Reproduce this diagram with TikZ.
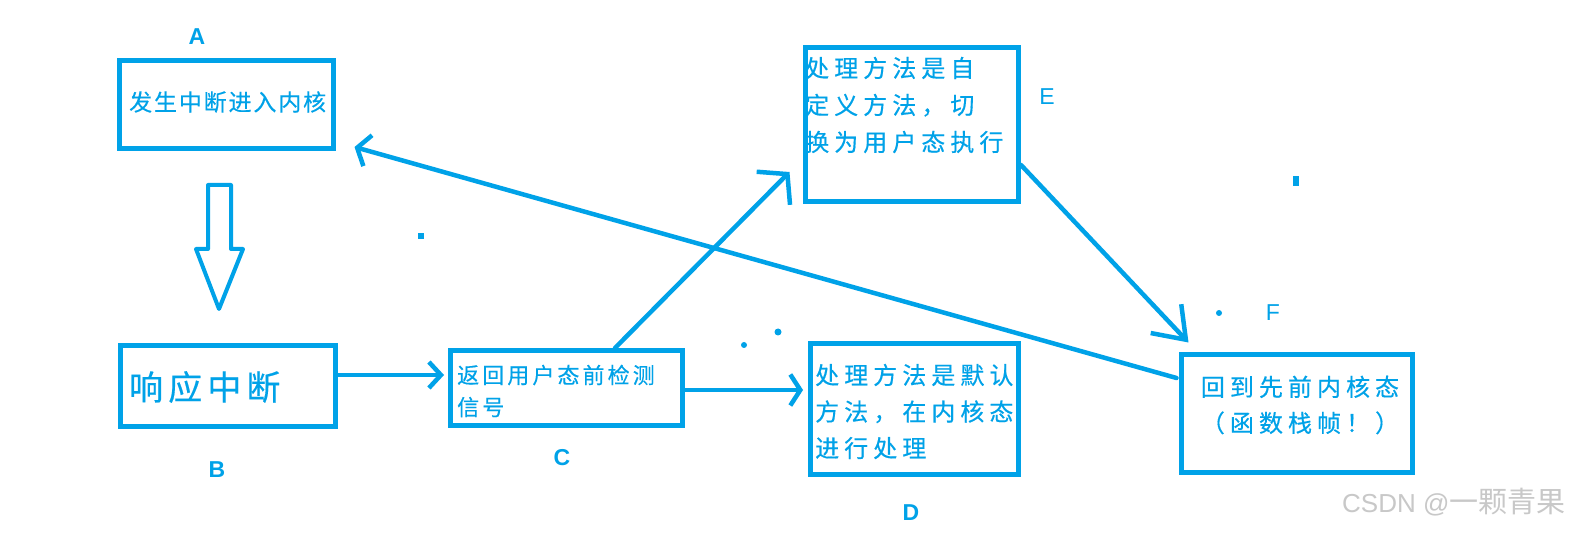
\documentclass[tikz,border=0pt]{standalone}
\usepackage{fontspec}
\setmainfont{Liberation Sans}
\newfontfamily\cjkA[LetterSpace=8,FakeBold=0.4]{Noto Sans CJK SC}
\newfontfamily\cjkB[LetterSpace=15,FakeBold=0.4]{Noto Sans CJK SC}
\newfontfamily\cjkC[LetterSpace=14,FakeBold=0.4]{Noto Sans CJK SC}
\newfontfamily\cjkD[LetterSpace=21,FakeBold=0.4]{Noto Sans CJK SC}
\newfontfamily\cjkW{Noto Sans CJK SC}
\usetikzlibrary{arrows.meta}
\definecolor{paint}{RGB}{0,162,232}
\definecolor{wmgray}{RGB}{200,200,200}
\begin{document}
\begin{tikzpicture}[x=1pt,y=-1pt,
  box/.style={draw=paint,line width=5pt,inner sep=0pt,rectangle},
  txt/.style={text=paint,inner sep=0pt},
  lab/.style={text=paint,inner sep=0pt,font=\fontsize{23}{23}\selectfont\bfseries},
  labr/.style={text=paint,inner sep=0pt,font=\fontsize{23}{23}\selectfont},
  conn/.style={draw=paint,line width=4.5pt,line cap=round,line join=round}]
\fill[white] (0,0) rectangle (1579,534);
\useasboundingbox (0,0) rectangle (1579,534);

% boxes
\node[box,minimum width=214pt,minimum height=88pt] (A) at (226.5,104.5) {};
\node[box,minimum width=215pt,minimum height=81pt] (B) at (228,386) {};
\node[box,minimum width=232pt,minimum height=75pt] (C) at (566.5,388) {};
\node[box,minimum width=208pt,minimum height=131pt] (D) at (914.5,409) {};
\node[box,minimum width=213pt,minimum height=154pt] (E) at (912,124.5) {};
\node[box,minimum width=231pt,minimum height=118pt] (F) at (1297,413.5) {};

% texts
\node[txt,anchor=west,font=\fontsize{23}{23}\selectfont\cjkA] (At) at (129,102) {发生中断进入内核};
\node[txt,anchor=west,font=\fontsize{34}{34}\selectfont\cjkB] (Bt) at (129,387) {响应中断};
\node[txt,anchor=west,align=left,font=\fontsize{22}{32}\selectfont\cjkC] (Ct) at (457,391) {返回用户态前检测\\信号};
\node[txt,anchor=west,align=left,font=\fontsize{24}{36.5}\selectfont\cjkD] (Dt) at (815,411.5) {处理方法是默认\\方法，在内核态\\进行处理};
\node[txt,anchor=west,align=left,font=\fontsize{24}{37}\selectfont\cjkD] (Et) at (805,105) {处理方法是自\\定义方法，切\\换为用户态执行};
\node[txt,align=center,font=\fontsize{24}{36}\selectfont\cjkD] (Ft) at (1300,405) {回到先前内核态\\（函数栈帧！）};

% labels
\node[lab] (La) at (197,37) {A};
\node[lab] (Lb) at (217,470) {B};
\node[lab] (Lc) at (562,458) {C};
\node[lab] (Ld) at (911,513) {D};
\node[labr] (Le) at (1047,97) {E};
\node[labr] (Lf) at (1273,313) {F};

% hollow arrow A -> B
\draw[draw=paint,line width=4pt,line join=round]
  (208,185) -- (231,185) -- (231,249) -- (243,249) -- (219,309) -- (196,249) -- (208,249) -- cycle;

% connectors
\draw[conn,-{Straight Barb[length=12pt,width=26pt]}] ([yshift=11pt]B.east) -- ([xshift=-4pt,yshift=13pt]C.west);
\draw[conn,-{Straight Barb[length=10pt,width=31pt]}] ([yshift=-2pt]C.east) -- ([xshift=-5pt,yshift=19pt]D.west);
\draw[conn,-{Straight Barb[length=20pt,width=47pt]}] ([xshift=48.5pt]C.north) -- ([xshift=-13.5pt,yshift=-47.5pt]E.west);
\draw[conn,-{Straight Barb[length=29pt,width=42pt]}] ([yshift=-40.5pt]E.east) -- ([xshift=9.5pt,yshift=9.5pt]F.north west);
\draw[conn,-{Straight Barb[length=11pt,width=32pt]}] ([xshift=-2.5pt,yshift=35.5pt]F.west) -- ([xshift=18.5pt,yshift=-42.5pt]A.east);

% stray dots
\fill[paint] (418,233) rectangle (424,239);
\fill[paint] (1293,176) rectangle (1299,186);
\fill[paint] (1219,313) circle[radius=3pt];
\fill[paint] (744,345) circle[radius=3pt];
\fill[paint] (778,332) circle[radius=3.5pt];

% watermark
\node[anchor=west,text=wmgray,inner sep=0pt,font=\fontsize{26}{26}\selectfont] (wm) at (1342,502) {CSDN @{\fontsize{29}{29}\selectfont\cjkW 一颗青果}};
\end{tikzpicture}
\end{document}
